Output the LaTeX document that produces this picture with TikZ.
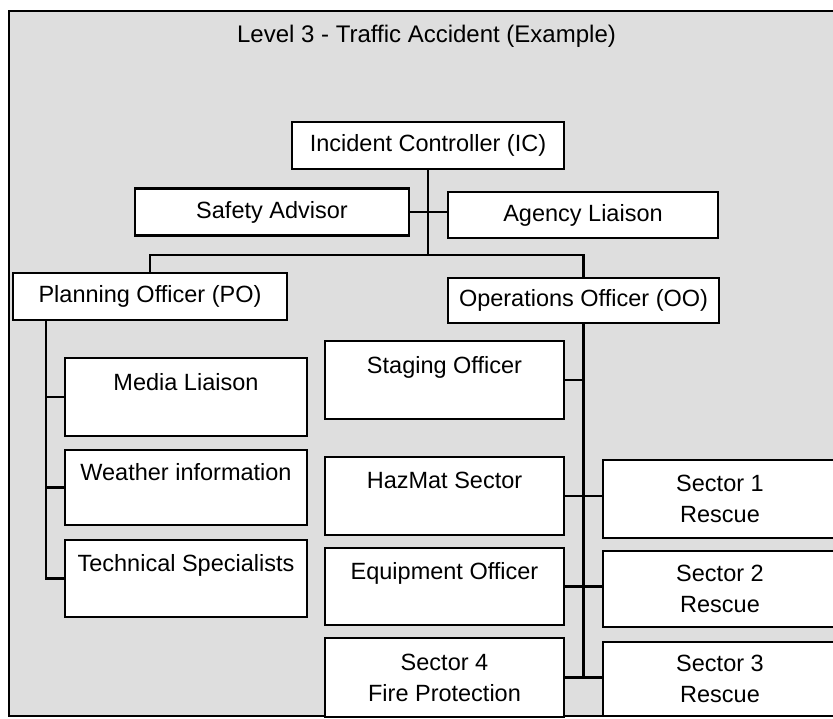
\documentclass[tikz,border=0pt]{standalone}
\usepackage{fontspec}
\setmainfont{Liberation Sans}
\begin{document}
\begin{tikzpicture}[x=1pt,y=-1pt,
  box/.style={draw=black, line width=2.6pt, fill=white, inner sep=0pt, align=center,
    font=\fontsize{23.5}{31}\selectfont},
  link/.style={line width=2.2pt, draw=black},
  frame/.style={line width=2.6pt, draw=black},
  titletext/.style={font=\fontsize{24}{28}\selectfont, inner sep=0pt}]
\useasboundingbox (0,0) rectangle (833,718);
\clip (0,0) rectangle (833,718);
\fill[black!13] (9,11) rectangle (850,716);
\draw[frame] (850,11) -- (9,11) -- (9,716) -- (850,716);
\node[titletext, anchor=base] (title) at (426.5,42) {Level 3 - Traffic Accident (Example)};

% top level
\node[box, minimum width=272pt, minimum height=47pt] (ic) at (428,145.5) {Incident Controller (IC)};
\node[box, minimum width=274pt, minimum height=47pt] (safety) at (272,212) {Safety Advisor};
\node[box, minimum width=270pt, minimum height=46pt] (agency) at (583,215) {Agency Liaison};
\node[box, minimum width=274pt, minimum height=47pt] (po) at (150,296.5) {Planning Officer (PO)};
\node[box, minimum width=271pt, minimum height=45pt] (oo) at (583.5,300.5) {Operations Officer (OO)};

% planning column
\node[box, minimum width=242pt, minimum height=78pt] (media) at (186,397) {Media Liaison\\~};
\node[box, minimum width=242pt, minimum height=75pt] (weather) at (186,487.5) {Weather information\\~};
\node[box, minimum width=242pt, minimum height=77pt] (tech) at (186,578.5) {Technical Specialists\\~};

% operations column
\node[box, minimum width=239pt, minimum height=78pt] (staging) at (444.5,380) {Staging Officer\\~};
\node[box, minimum width=239pt, minimum height=78pt] (hazmat) at (444.5,496) {HazMat Sector\\~};
\node[box, minimum width=239pt, minimum height=77pt] (equip) at (444.5,586.5) {Equipment Officer\\~};
\node[box, minimum width=239pt, minimum height=79pt] (sector4) at (444.5,677.5) {Sector 4\\Fire Protection};

\node[box, minimum width=234pt, minimum height=78pt] (sector1) at (720,499) {Sector 1\\Rescue};
\node[box, minimum width=234pt, minimum height=76pt] (sector2) at (720,589) {Sector 2\\Rescue};
\node[box, minimum width=234pt, minimum height=74pt] (sector3) at (720,679) {Sector 3\\Rescue};

% connectors
\coordinate (split) at (428,255);
\draw[link] (ic.south) -- (split);
\draw[link] (safety.east) -- (safety.east -| agency.west);
\draw[link] (po.north) |- (split) -| (oo.north);

\coordinate (pl) at (46,320);
\draw[link] (pl) |- (tech.west);
\draw[link] (pl |- media.west) -- (media.west);
\draw[link] (pl |- weather.west) -- (weather.west);

\draw[link] (oo.south) -- (oo.south |- sector4.east);
\draw[link] (staging.east) -- (staging.east -| oo.south);
\draw[link] (hazmat.east) -- (hazmat.east -| sector1.west);
\draw[link] (equip.east) -- (equip.east -| sector2.west);
\draw[link] (sector4.east) -- (sector4.east -| sector3.west);
\end{tikzpicture}
\end{document}
